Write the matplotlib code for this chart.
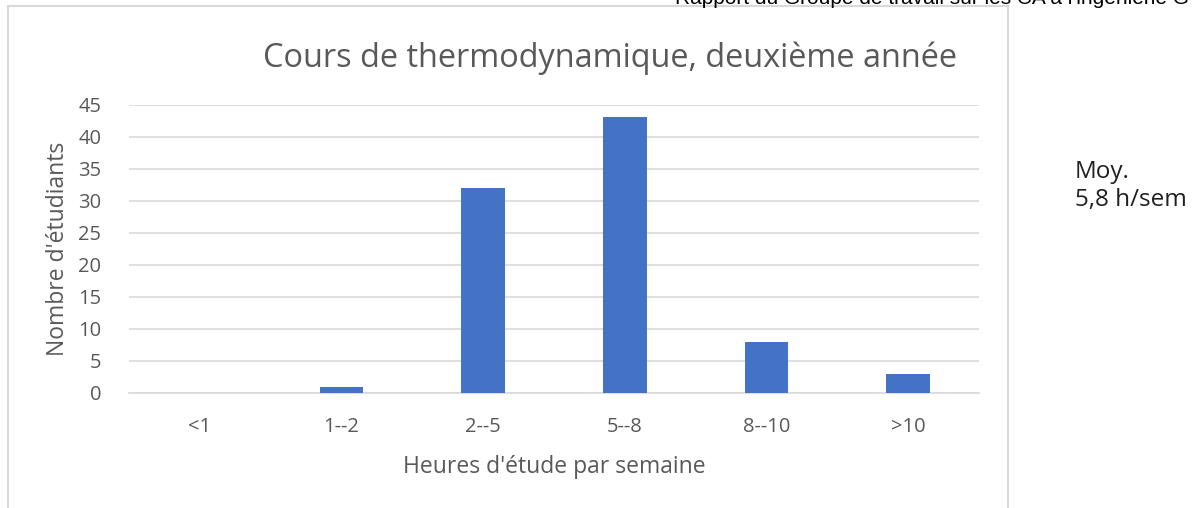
import matplotlib
matplotlib.use("Agg")
from matplotlib import pyplot as plt
from matplotlib.patches import Rectangle
import numpy as np

categories = ["<1", "1--2", "2--5", "5--8", "8--10", ">10"]
students = [0, 1, 32, 43, 8, 3]
y_ticks = [0, 5, 10, 15, 20, 25, 30, 35, 40, 45]

title = "Cours de thermodynamique, deuxième année"
x_label = "Heures d'étude par semaine"
y_label = "Nombre d'étudiants"
note = "Moy.\n5,8 h/sem"
header = "Rapport du Groupe de travail sur les CA à l'ingénierie G"

plt.rcParams['font.family'] = ['Open Sans', 'DejaVu Sans']
grey = '#595959'
W, H = 1197, 508

fig = plt.figure(figsize=(W / 100, H / 100), dpi=100)

# chart frame
fig.patches.append(Rectangle((8 / W, -0.1), 1000 / W, 1.1 - 6 / H, transform=fig.transFigure,
                             fill=False, edgecolor='#d9d9d9', linewidth=1.5))

ax = fig.add_axes([129 / W, 1 - 393 / H, 850 / W, (393 - 104.5) / H])
x = np.arange(len(categories))
ax.bar(x, students, width=0.31, color='#4472C4', zorder=3)
ax.set_xlim(-0.5, len(categories) - 0.5)
ax.set_ylim(0, 45)
ax.set_yticks(y_ticks)
ax.set_xticks(x)
ax.set_xticklabels(categories)
ax.grid(axis='y', color='#d9d9d9', linewidth=1.2, zorder=0)
for s in ['top', 'right', 'left']:
    ax.spines[s].set_visible(False)
ax.spines['bottom'].set_color('#d9d9d9')
ax.spines['bottom'].set_linewidth(1.2)
ax.tick_params(length=0, labelsize=14.5, colors=grey)
ax.tick_params(axis='y', pad=20)
ax.tick_params(axis='x', pad=17)
ax.set_xlabel(x_label, fontsize=16.5, color=grey, labelpad=13)
ax.set_ylabel(y_label, fontsize=16.5, color=grey, labelpad=6)

fig.text(610 / W, 1 - 58 / H, title, ha='center', va='center', fontsize=23.4, color=grey)
fig.text(1075 / W, 1 - 186 / H, note, ha='left', va='center', fontsize=17.5,
         color='#202020', linespacing=1.2)
fig.text(675 / W, 1 + 2 / H, header, ha='left', va='center', fontsize=15,
         color='black', family='Liberation Sans')

fig.savefig("out.png", dpi=100)
